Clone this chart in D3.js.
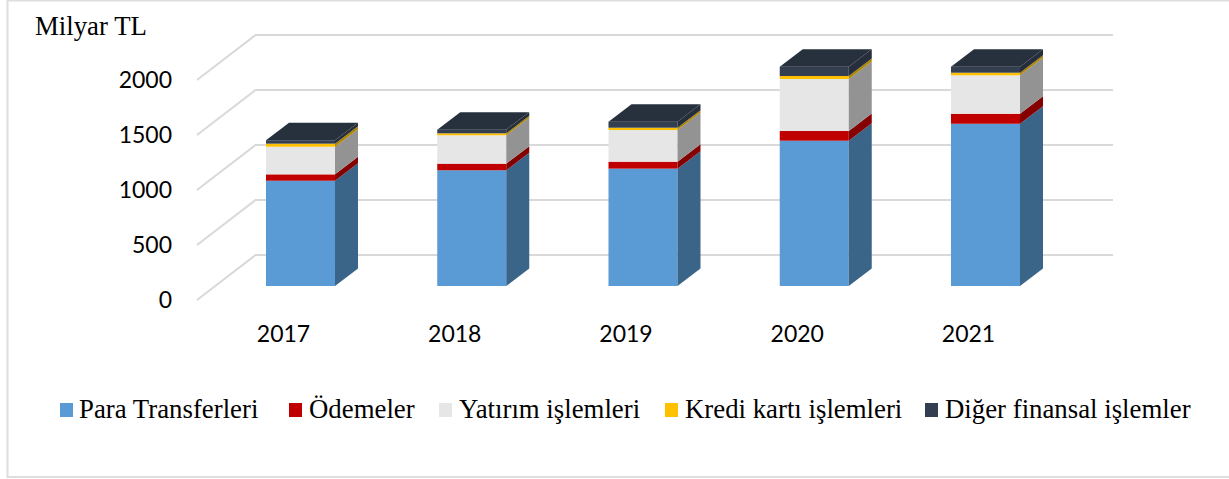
<!DOCTYPE html>
<html><head><meta charset="utf-8">
<script src="https://cdn.jsdelivr.net/npm/d3@7"></script>
<style>html,body{margin:0;padding:0;background:#fff}svg{display:block}</style>
</head><body><svg id="c" width="1229" height="479"></svg>
<script>
const years = ["2017","2018","2019","2020","2021"];
const seriesNames = ["Para Transferleri","Ödemeler","Yatırım işlemleri","Kredi kartı işlemleri","Diğer finansal işlemler"];
const paraTransferleri = [957,1052,1067,1321,1475];
const odemeler = [58,60,63,88,91];
const yatirim = [251,258,288,473,349];
const krediKarti = [28,18,21,27,24];
const diger = [31,33,55,85,55];
const yTicks = [0,500,1000,1500,2000];
const frontColors = ["#5B9BD5","#C00000","#E7E6E6","#FFC000","#333F50"];
const sideColors = ["#3A6488","#850000","#939393","#B08600","#252E3A"];
const topColor = "#27313D";
const legendX = [60,289,439,665,925];

const svg = d3.select("#c");
const serif = "'Liberation Serif','Times New Roman',serif";
const W=1229,H=479;
// frame
svg.append("path").attr("d",`M${W},0.5H7.5V477H${W}`).attr("fill","none").attr("stroke","#DEDEDE").attr("stroke-width",2);

const y = d3.scaleLinear().domain([0,2000]).range([286,66]);
const x = d3.scaleBand().domain(years).range([266,1020]).paddingInner(0.597).paddingOuter(0);
const dx=23, dy=17.5;

// grid
const grid = svg.append("g").attr("fill","none").attr("stroke","#D9D9D9").attr("stroke-width",2);
grid.selectAll("path").data(yTicks).join("path")
  .attr("d",v=>`M197,${y(v)+14}L255.5,${y(v)-31}H1113`);

// stack
const rows = years.map((yr,i)=>({year:yr,0:paraTransferleri[i],1:odemeler[i],2:yatirim[i],3:krediKarti[i],4:diger[i]}));
const stacked = d3.stack().keys([0,1,2,3,4])(rows);
const bw = x.bandwidth();
const g = svg.append("g");
stacked.forEach((layer,si)=>{
  const sg = g.append("g");
  sg.selectAll("rect").data(layer).join("rect")
    .attr("x",d=>x(d.data.year)).attr("width",bw)
    .attr("y",d=>y(d[1])).attr("height",d=>y(d[0])-y(d[1]))
    .attr("fill",frontColors[si]);
  sg.selectAll("polygon").data(layer).join("polygon")
    .attr("points",d=>{const r=x(d.data.year)+bw;return [[r,y(d[0])],[r+dx,y(d[0])-dy],[r+dx,y(d[1])-dy],[r,y(d[1])]].join(" ");})
    .attr("fill",sideColors[si]);
});
g.append("g").selectAll("polygon").data(stacked[4]).join("polygon")
  .attr("points",d=>{const l=x(d.data.year),t=y(d[1]);return [[l,t],[l+dx,t-dy],[l+bw+dx,t-dy],[l+bw,t]].join(" ");})
  .attr("fill",topColor);

// axes
const yAxis = svg.append("g").attr("transform","translate(172,14)").call(d3.axisLeft(y).tickValues(yTicks).tickFormat(d3.format("d")).tickSize(0).tickPadding(0));
yAxis.select(".domain").remove();
yAxis.selectAll("text").attr("font-family","Lato").attr("font-size",23).attr("fill","#000");
const xAxis = svg.append("g").attr("transform","translate(-17,326)").call(d3.axisBottom(x).tickSize(0).tickPadding(0));
xAxis.select(".domain").remove();
xAxis.selectAll("text").attr("font-family","Lato").attr("font-size",23).attr("fill","#000");

svg.append("text").attr("x",35).attr("y",35).attr("font-family",serif).attr("font-size",26.8).attr("fill","#000").text("Milyar TL");

// legend
const leg = svg.append("g").selectAll("g").data(seriesNames).join("g").attr("transform",(d,i)=>`translate(${legendX[i]},0)`);
leg.append("rect").attr("y",403).attr("width",13).attr("height",14).attr("fill",(d,i)=>frontColors[i]);
leg.append("text").attr("x",(d,i)=>i==0?19:20).attr("y",418).attr("font-family",serif).attr("font-size",26.8).attr("fill","#000").text(d=>d);
</script></body></html>
